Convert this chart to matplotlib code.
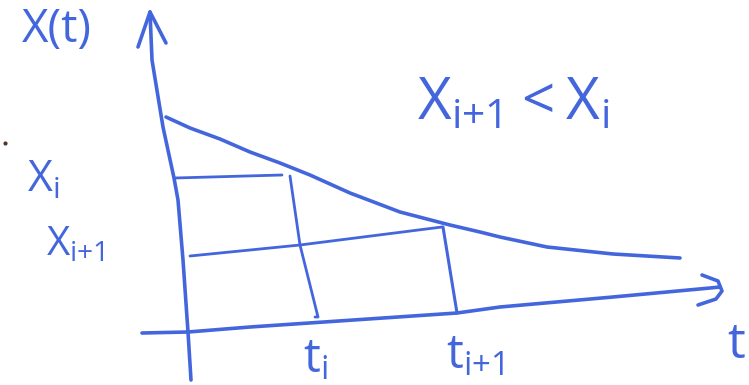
import matplotlib.pyplot as plt

plt.rcParams['mathtext.fontset'] = 'custom'
plt.rcParams['mathtext.rm'] = 'Open Sans'
plt.rcParams['font.family'] = ['Open Sans', 'DejaVu Sans']

INK = '#4466dd'

# pen strokes, in sketch units (x to the right, y downwards)
yaxis_x = [191, 188, 183, 178, 174, 163, 152, 150]
yaxis_y = [380, 332, 260, 200, 178, 127, 60, 12]
yhead_x = [138, 150, 166]
yhead_y = [47, 12, 43]

xaxis_x = [142, 188, 250, 457, 500, 613, 710, 720]
xaxis_y = [333, 332, 327, 313, 307, 297, 288, 287]
xhead_x = [702, 718, 722, 716, 698]
xhead_y = [275, 281, 291, 299, 305]

curve_t = [166, 190, 220, 250, 280, 310, 350, 400, 450, 480, 500, 547, 613, 680]
curve_x = [117, 128, 139, 152, 163, 175, 193, 212, 225, 232, 237, 247, 254, 258]

# x_i level and its drop to t_i
xi_t = [175, 282]
xi_x = [178, 175]
ti_t = [290, 300, 318, 315]
ti_x = [176, 245, 317, 317]

# x_{i+1} level and its drop to t_{i+1}
xi1_t = [190, 250, 300, 442]
xi1_x = [256, 250, 245, 227]
ti1_t = [443, 457]
ti1_x = [227, 313]

labels = [
    ('X(t)', 57, 30, 33),
    (r'$\mathregular{X_i}$', 43, 181, 31),
    (r'$\mathregular{X_{i{+}1}}$', 75, 245, 29),
    (r'$\mathregular{t_i}$', 316, 359, 34),
    (r'$\mathregular{t_{i{+}1}}$', 475, 355, 34),
    ('t', 736, 345, 36),
    (r'$\mathregular{X_{i{+}1} < X_i}$', 513, 104, 42),
]

fig = plt.figure(figsize=(7.49, 3.85), dpi=100)
ax = fig.add_axes([0, 0, 1, 1])
ax.set_xlim(0, 749)
ax.set_ylim(385, 0)
ax.axis('off')

pen = dict(color=INK, lw=2.6, solid_capstyle='round', solid_joinstyle='round')
ax.plot(yaxis_x, yaxis_y, **pen)
ax.plot(yhead_x, yhead_y, **pen)
ax.plot(xaxis_x, xaxis_y, **pen)
ax.plot(xhead_x, xhead_y, **pen)
ax.plot(curve_t, curve_x, **pen)
ax.plot(xi_t, xi_x, color=INK, lw=2.0, solid_capstyle='round')
ax.plot(ti_t, ti_x, color=INK, lw=2.0, solid_capstyle='round')
ax.plot(xi1_t, xi1_x, color=INK, lw=2.0, solid_capstyle='round')
ax.plot(ti1_t, ti1_x, color=INK, lw=2.2, solid_capstyle='round')

for text, x, y, size in labels:
    ax.text(x, y, text, color=INK, fontsize=size, ha='center', va='center')

# stray pen dot on the left margin
ax.plot([5], [143], 'o', color='#553322', ms=2)

fig.savefig('out.png', dpi=100)
